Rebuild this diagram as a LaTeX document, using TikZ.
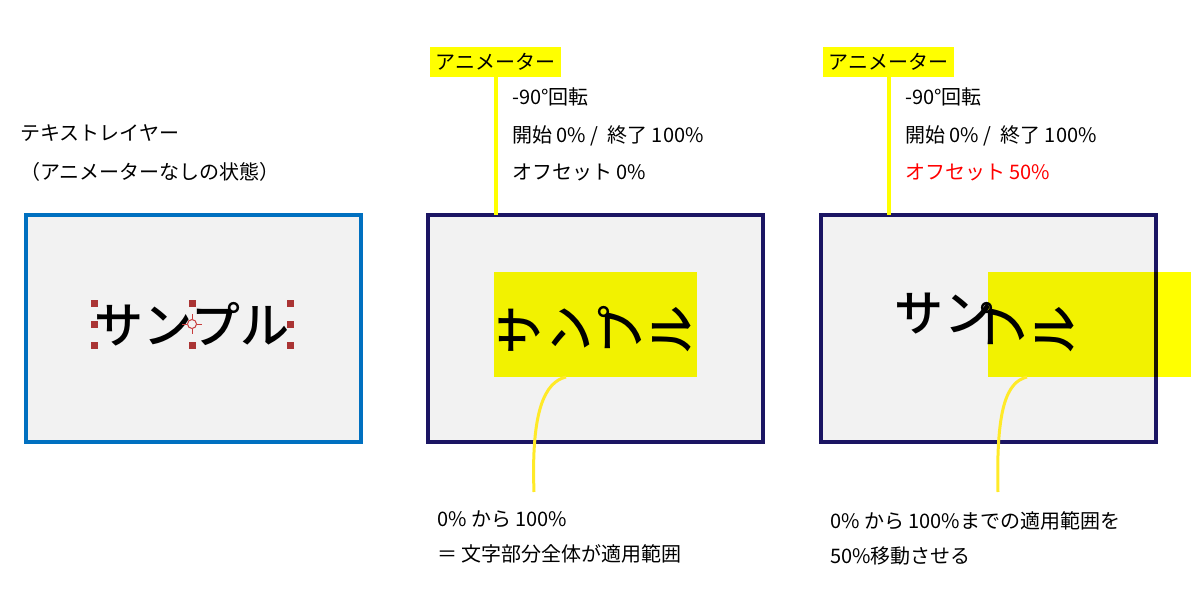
\documentclass[tikz,border=0pt]{standalone}
\usepackage{fontspec}
\setmainfont{Noto Sans CJK JP}
\newfontfamily\glyphfont{Noto Sans CJK JP Medium}
\usetikzlibrary{positioning}
\definecolor{aeblue}{RGB}{0,112,192}
\definecolor{aenavy}{RGB}{27,21,99}
\definecolor{panelgray}{RGB}{242,242,242}
\definecolor{hiyellow}{RGB}{255,255,0}
\definecolor{curveyellow}{RGB}{255,234,40}
\definecolor{handlered}{RGB}{170,52,52}
\definecolor{anchorred}{RGB}{200,60,60}
\definecolor{offsetred}{RGB}{255,0,0}

\begin{document}
\begin{tikzpicture}[
    x=1pt, y=-1pt,
    font=\fontsize{20}{24}\selectfont,
     note/.style = {anchor=west, inner sep=0pt, text height=17pt, text depth=3pt},
animlabel/.style = {fill=hiyellow, minimum height=30pt, minimum width=131pt,
        inner sep=0pt, outer sep=0pt},
  compbox/.style = {draw, line width=4pt, fill=panelgray, minimum width=335pt,
        minimum height=227pt, inner sep=0pt, outer sep=0pt},
   hilite/.style = {fill=hiyellow, minimum width=203pt, minimum height=105pt,
        inner sep=0pt, outer sep=0pt},
    glyph/.style = {font=\fontsize{49}{49}\glyphfont, inner sep=0pt},
   rglyph/.style = {glyph, rotate=90},
   handle/.style = {fill=handlered, minimum size=7pt, inner sep=0pt},
   leader/.style = {draw=hiyellow, line width=4pt},
  pointer/.style = {draw=curveyellow, line width=3pt}
                    ]
\useasboundingbox (0,0) rectangle (1200,600);
% the text layer on the left
\node (lay1) [note] at (20,133) {テキストレイヤー};
\node (lay2) [note] at (20,172) {（アニメーターなしの状態）};
\node (comp1) [compbox, draw=aeblue] at (193.5,328.5) {};
\node (word1) [glyph] at (192,324) {サンプル};
% the handles round the word
\foreach \hx/\hy in {94/303,94/324,94/345,192/303,192/345,290/303,290/324,290/345}
    \node (h\hx\hy) [handle] at (\hx,\hy) {};
% the anchor point
\node (anchor1) [circle, draw=anchorred, line width=1pt, minimum size=9pt,
                 inner sep=0pt] at (192,324) {};
\draw[anchorred, line width=1pt] (anchor1.north) -- ++(0,-5)
                                 (anchor1.south) -- ++(0,5)
                                 (anchor1.west) -- ++(-5,0)
                                 (anchor1.east) -- ++(5,0);

% the middle panel
\node (anim2) [animlabel] at (495.5,62) {アニメーター};
\node (m1) [note] at (512,97)  {-90°回転};
\node (m2) [note] at (512,135) {開始 0\% /\ \ 終了 100\%};
\node (m3) [note] at (512,172) {オフセット 0\%};
\node (comp2) [compbox, draw=aenavy] at (595.5,328.5) {};
\draw[leader] (anim2.south) -- (anim2.south |- comp2.north);
    \begin{scope}[blend mode=multiply]
\node (hl2) [hilite] at (595.5,324.5) {};
    \end{scope}
\foreach \ch/\cx in {サ/520,ン/571,プ/620,ル/672}
    \node (g2\cx) [rglyph] at (\cx,330) {\ch};
\coordinate (tip2) at (534,492);
\draw[pointer] ([xshift=-29.5pt]hl2.south) .. controls (545,382) and (531,410) .. (tip2);
\node (b1) [note] at (437,519) {0\% から 100\%};
\node (b2) [note] at (437,554) {＝ 文字部分全体が適用範囲};

% the right panel
\node (anim3) [animlabel] at (888.5,62) {アニメーター};
\node (r1) [note] at (905,97)  {-90°回転};
\node (r2) [note] at (905,135) {開始 0\% /\ \ 終了 100\%};
\node (r3) [note, text=offsetred] at (905,172) {オフセット 50\%};
\node (comp3) [compbox, draw=aenavy] at (988.5,328.5) {};
\draw[leader] (anim3.south) -- (anim3.south |- comp3.north);
\node (g3a) [glyph] at (919,314) {サ};
\node (g3b) [glyph] at (969,314) {ン};
\node (g3c) [rglyph] at (1003,326) {プ};
\node (g3d) [rglyph] at (1055,330) {ル};
    \begin{scope}[blend mode=multiply]
\node (hl3) [hilite] at (1089.5,324.5) {};
    \end{scope}
\coordinate (tip3) at (998,492);
\draw[pointer] ([xshift=39pt]hl3.south west) .. controls (1006,382) and (996,410) .. (tip3);
\node (c1) [note] at (830,521) {0\% から 100\%までの適用範囲を};
\node (c2) [note] at (830,556) {50\%移動させる};
\end{tikzpicture}
\end{document}
